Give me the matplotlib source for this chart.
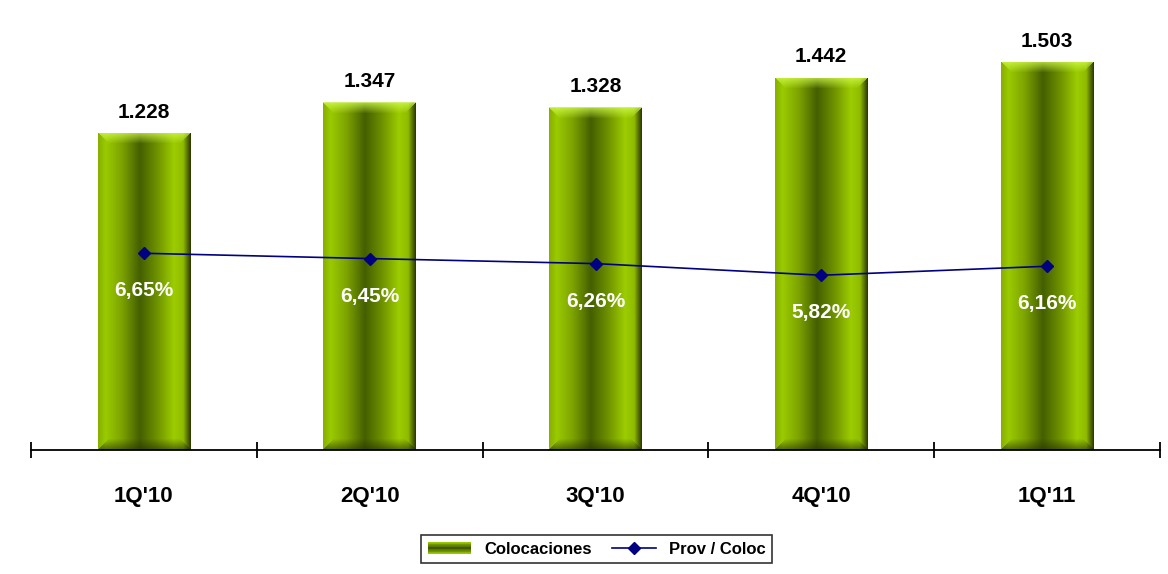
import numpy as np
import matplotlib
matplotlib.use("Agg")
import matplotlib.pyplot as plt
from matplotlib.colors import to_rgb
from matplotlib.lines import Line2D
from matplotlib.patches import Rectangle
from matplotlib.legend_handler import HandlerBase

plt.rcParams['font.family'] = ['Liberation Sans', 'DejaVu Sans']

quarters = ["1Q'10", "2Q'10", "3Q'10", "4Q'10", "1Q'11"]
colocaciones = [1.228, 1.347, 1.328, 1.442, 1.503]
prov_coloc = [6.65, 6.45, 6.26, 5.82, 6.16]

# horizontal colour profile of the cylinder-like bars
stops = [0.0, 0.08, 0.25, 0.45, 0.62, 0.82, 0.92, 1.0]
stop_colors = ['#88b000', '#9acb00', '#7ea400', '#445f00', '#6a8c00', '#9ccc00', '#90bc00', '#2e3c00']


def bar_image(nrows, ncols, bevel=11):
    xs = np.linspace(0, 1, ncols)
    rgb = np.array([to_rgb(c) for c in stop_colors])
    prof = np.stack([np.interp(xs, stops, rgb[:, k]) for k in range(3)], axis=1)
    img = np.repeat(prof[None, :, :], nrows, axis=0)
    hi = np.array(to_rgb('#d4ff50'))
    lo = np.array(to_rgb('#243000'))
    for r in range(min(bevel, nrows)):
        c0, c1 = r, ncols - r
        if c1 <= c0:
            break
        t = 1 - r / bevel
        # top bevel, lighter
        img[r, c0:c1] = img[r, c0:c1] * (1 - 0.75 * t) + hi * 0.75 * t
        # bottom bevel, darker
        rb = nrows - 1 - r
        img[rb, c0:c1] = img[rb, c0:c1] * (1 - 0.6 * t) + lo * 0.6 * t
    img[0, :] = img[0, :] * 0.5 + np.array(to_rgb('#e0f0a0')) * 0.5
    return img


class GradientHandler(HandlerBase):
    def create_artists(self, legend, orig_handle, xdescent, ydescent,
                       width, height, fontsize, trans):
        rgb = np.array([to_rgb(c) for c in ['#a0d000', '#6a8c00', '#3a5000', '#6a8c00', '#a0d000']])
        n = 16
        pos = np.linspace(0, 1, 5)
        arts = []
        for i in range(n):
            t = (i + 0.5) / n
            c = [np.interp(t, pos, rgb[:, k]) for k in range(3)]
            arts.append(Rectangle((-xdescent, -ydescent + height * i / n), width, height / n + 0.01,
                                  facecolor=c, edgecolor='none', transform=trans))
        return arts


fig = plt.figure(figsize=(11.68, 5.74), dpi=100)
ax = fig.add_axes([31 / 1168, 124 / 574, 1129 / 1168, 439 / 574])
x = np.arange(len(quarters))

ax.set_xlim(-0.5, len(quarters) - 0.5)
ax.set_ylim(0, 1.7)
bars = ax.bar(x, colocaciones, width=0.41, color='none', edgecolor='none', zorder=2)

for b in bars:
    ext = b.get_window_extent()
    img = bar_image(max(int(ext.height), 20), max(int(ext.width), 10))
    im = ax.imshow(img, extent=[b.get_x(), b.get_x() + b.get_width(), 0, b.get_height()],
                   origin='upper', aspect='auto', interpolation='bilinear', zorder=2)
    im.set_clip_path(b)

ax.set_xlim(-0.5, len(quarters) - 0.5)
ax.set_ylim(0, 1.7)

for xi, v in zip(x, colocaciones):
    ax.annotate(f"{v:.3f}", (xi, v), xytext=(0, 15), textcoords='offset points',
                ha='center', va='center', fontsize=15, fontweight='bold', color='black')

for s in ['top', 'right', 'left']:
    ax.spines[s].set_visible(False)
ax.spines['bottom'].set_linewidth(1.3)
ax.set_yticks([])
ax.set_xticks(np.arange(-0.5, len(quarters), 1.0))
ax.set_xticklabels([])
ax.tick_params(axis='x', which='major', direction='inout', length=11, width=1.3)
ax.set_xticks(x, minor=True)
ax.set_xticklabels(quarters, minor=True, fontsize=16, fontweight='bold')
ax.tick_params(axis='x', which='minor', length=0, pad=26)

ax2 = ax.twinx()
ax2.set_ylim(-0.78, 15.8)
ax2.plot(x, prov_coloc, color='#000080', linewidth=1.2, marker='D', markersize=6, zorder=3)
ax2.set_yticks([])
for s in ax2.spines.values():
    s.set_visible(False)
for xi, p in zip(x, prov_coloc):
    ax2.annotate(f"{p:.2f}%".replace('.', ','), (xi, p), xytext=(0, -27), textcoords='offset points',
                 ha='center', va='center', fontsize=15, fontweight='bold', color='white')

handles = [Rectangle((0, 0), 1, 1),
           Line2D([], [], color='#000080', linewidth=1.2, marker='D', markersize=6)]
leg = fig.legend(handles, ['Colocaciones', 'Prov / Coloc'], loc='center',
                 bbox_to_anchor=(0.511, 0.043), ncol=2, fancybox=False, frameon=True,
                 prop={'weight': 'bold', 'size': 12}, handler_map={Rectangle: GradientHandler()},
                 handlelength=2.6, columnspacing=1.2, borderpad=0.4)
leg.get_frame().set_edgecolor('black')
leg.get_frame().set_linewidth(1.2)

fig.savefig('out.png', dpi=100)
